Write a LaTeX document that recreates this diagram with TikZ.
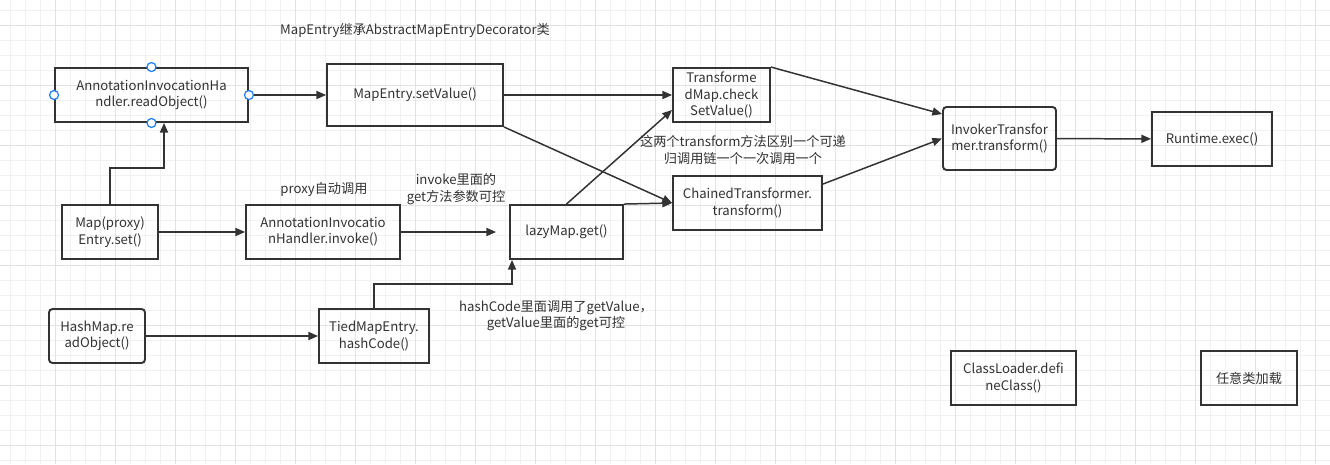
\documentclass[tikz,border=0pt]{standalone}
\usepackage{fontspec}
\setmainfont{Noto Sans CJK SC}
\usepackage{tikz}
\usetikzlibrary{calc,arrows.meta}
\definecolor{linegray}{HTML}{333333}
\definecolor{gridminor}{HTML}{F1F1F1}
\definecolor{gridmajor}{HTML}{E2E2E2}
\definecolor{handleblue}{HTML}{1E7EF0}
\tikzstyle{call} = [rectangle, draw=linegray, line width=1.1pt, text=linegray, text centered, align=center, inner sep=0pt, minimum height=1.08cm, font=\fontsize{7.5}{9.3}\selectfont]
\tikzstyle{note} = [text=linegray, align=center, inner sep=0pt, font=\fontsize{7.5}{9.3}\selectfont]
\tikzstyle{handle} = [circle, draw=handleblue, fill=white, line width=0.7pt, inner sep=0pt, minimum size=0.18cm]
\tikzstyle{connector} = [line width=0.85pt, draw=linegray, -{Triangle[length=5.5pt,width=4.6pt]}]

\begin{document}
\begin{tikzpicture}[x=0.02cm, y=-0.02cm]
        \useasboundingbox (0,0) rectangle (1330,464);
        \fill[white] (0,0) rectangle (1330,464);
        % grid
        \foreach \i in {0,...,88} \draw[gridminor, line width=0.55pt] (10.7+15*\i,0) -- (10.7+15*\i,464);
        \foreach \i in {0,...,30} \draw[gridminor, line width=0.55pt] (0,10+15*\i) -- (1330,10+15*\i);
        \foreach \i in {0,...,21} \draw[gridmajor, line width=0.55pt] (55.7+60*\i,0) -- (55.7+60*\i,464);
        \foreach \i in {0,...,7} \draw[gridmajor, line width=0.55pt] (0,25+60*\i) -- (1330,25+60*\i);

        \node (title) [note] at (415,30) {MapEntry继承AbstractMapEntryDecorator类};
        \node (readobj) [call, minimum width=3.86cm] at (151.5,95) {AnnotationInvocationHa\\ndler.readObject()};
        \node (setvalue) [call, minimum width=3.52cm, minimum height=1.24cm] at (415,95) {MapEntry.setValue()};
        \node (entryset) [call, minimum width=1.92cm] at (110,232) {Map(proxy)\\Entry.set()};
        \node (invoke) [call, minimum width=3.08cm] at (323,232) {AnnotationInvocatio\\nHandler.invoke()};
        \node (lazyget) [call, minimum width=2.26cm] at (566.5,232) {lazyMap.get()};
        \node (hashread) [call, minimum width=1.92cm, rounded corners=2pt] at (97,336) {HashMap.re\\adObject()};
        \node (hashcode) [call, minimum width=2.2cm] at (374,336) {TiedMapEntry.\\hashCode()};
        \node (checkset) [call, minimum width=1.94cm] at (721.5,95) {Transforme\\dMap.check\\SetValue()};
        \node (chained) [call, minimum width=2.98cm] at (747.5,203) {ChainedTransformer.\\transform()};
        \node (invoker) [call, minimum width=2.26cm, minimum height=1.26cm, rounded corners=2pt] at (999.5,138.5) {InvokerTransfor\\mer.transform()};
        \node (exec) [call, minimum width=2.4cm] at (1212,139) {Runtime.exec()};
        \node (define) [call, minimum width=2.5cm] at (1013.5,378) {ClassLoader.defi\\neClass()};
        \node (anyload) [call, minimum width=1.92cm] at (1249,378) {任意类加载};

        \node (proxynote) [note] at (324,189) {proxy自动调用};
        \node (invokenote) [note] at (456,189) {invoke里面的\\get方法参数可控};
        \node (hashnote) [note] at (556,316) {hashCode里面调用了getValue，\\getValue里面的get可控};
        \node (transnote) [note] at (743,150) {这两个transform方法区别一个可递\\归调用链一个一次调用一个};

        \coordinate (upbend) at (164,168);
        \coordinate (hashbend) at (512,284);

        \draw [connector] (readobj) -- (setvalue);
        \draw [connector] (entryset.north) |- (upbend) -- (upbend |- readobj.south);
        \draw [connector] (entryset) -- (invoke);
        \draw [connector] (invoke) -- ($(lazyget.west)+(-13,0)$);
        \draw [connector] (hashread) -- (hashcode);
        \draw [connector] (hashcode.north) |- (hashbend) -- (hashbend |- lazyget.south);
        \draw [connector] (setvalue) -- (checkset);
        \draw [connector] (lazyget.north) -- ($(checkset.west)+(0,15)$);
        \draw [connector] (setvalue.south east) -- (chained.west);
        \draw [connector] (lazyget.north east) -- (chained.west);
        \draw [connector] (checkset.north east) -- ($(invoker.north west)+(0,8)$);
        \draw [connector] ($(chained.north east)+(0,9)$) -- (invoker.west);
        \draw [connector] (invoker) -- (exec);

        \node (hn) [handle] at (readobj.north) {};
        \node (hs) [handle] at (readobj.south) {};
        \node (he) [handle] at (readobj.east) {};
        \node (hw) [handle] at (readobj.west) {};
    \end{tikzpicture}
\end{document}
